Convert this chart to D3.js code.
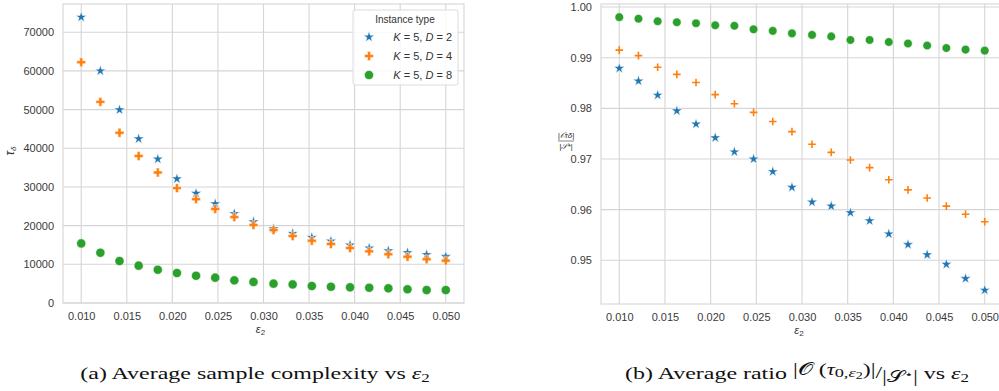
<!DOCTYPE html>
<html>
<head>
<meta charset="utf-8">
<script src="https://cdn.jsdelivr.net/npm/d3@7"></script>
<style>
  body { margin: 0; background: #fff; }
  text { font-family: "Liberation Sans", Arial, sans-serif; }
  .tick text { fill: #3a3a3a; font-size: 11px; }
  .caption { font-family: "Liberation Serif", "Times New Roman", serif; font-size: 17px; fill: #111; }
</style>
</head>
<body>
<svg id="chart"></svg>
<script>
const width = 999;
const height = 391;

// epsilon_2 values (20 points between 0.01 and 0.05)
const eps2 = [0.0100, 0.0121, 0.0142, 0.0163, 0.0184, 0.0205, 0.0226, 0.0247, 0.0268, 0.0289,
              0.0311, 0.0332, 0.0353, 0.0374, 0.0395, 0.0416, 0.0437, 0.0458, 0.0479, 0.0500];

// (a) sample complexity tau_delta
const tauD2 = [73900, 60000, 49950, 42450, 37200, 32100, 28350, 25650, 23100, 21000,
               19200, 18000, 16950, 16000, 15000, 14200, 13500, 13000, 12500, 12000];
const tauD4 = [62250, 52000, 44000, 38000, 33750, 29700, 26850, 24300, 22200, 20150,
               18850, 17300, 16100, 15250, 14200, 13350, 12600, 11950, 11300, 10950];
const tauD8 = [15400, 13000, 10850, 9650, 8600, 7750, 7050, 6550, 5850, 5450,
               5000, 4800, 4400, 4200, 4050, 3950, 3800, 3550, 3350, 3350];

// (b) ratio |O| / |S*|
const ratioD2 = [0.9879, 0.9854, 0.9826, 0.9795, 0.9769, 0.9742, 0.9714, 0.9700, 0.9675, 0.9644,
                 0.9615, 0.9607, 0.9594, 0.9578, 0.9552, 0.9531, 0.9511, 0.9492, 0.9464, 0.9441];
const ratioD4 = [0.9915, 0.9904, 0.9881, 0.9867, 0.9851, 0.9827, 0.9809, 0.9792, 0.9774, 0.9754,
                 0.9729, 0.9713, 0.9698, 0.9683, 0.9659, 0.9639, 0.9623, 0.9607, 0.9591, 0.9576];
const ratioD8 = [0.9980, 0.9977, 0.9972, 0.9970, 0.9968, 0.9964, 0.9963, 0.9956, 0.9953, 0.9948,
                 0.9945, 0.9942, 0.9935, 0.9935, 0.9931, 0.9928, 0.9924, 0.9919, 0.9916, 0.9914];

const xTicks = [0.010, 0.015, 0.020, 0.025, 0.030, 0.035, 0.040, 0.045, 0.050];
const tauTicks = [0, 10000, 20000, 30000, 40000, 50000, 60000, 70000];
const ratioTicks = [0.95, 0.96, 0.97, 0.98, 0.99, 1.00];
const legendLabels = ["2", "4", "8"];

const blue = "#1f77b4", orange = "#ff7f0e", green = "#2ca02c";
const gridColor = "#d5d5d5";

const svg = d3.select("#chart").attr("width", width).attr("height", height);

function panel(box, yDomain, yTicks, yFmt) {
    const x = d3.scaleLinear().domain([0.008, 0.052]).range([box.left, box.right]);
    const y = d3.scaleLinear().domain(yDomain).range([box.bottom, box.top]);
    const g = svg.append("g");

    g.append("g").selectAll("line").data(xTicks).enter().append("line")
        .attr("x1", d => x(d)).attr("x2", d => x(d))
        .attr("y1", box.top).attr("y2", box.bottom)
        .attr("stroke", gridColor).attr("stroke-width", 1.1);
    g.append("g").selectAll("line").data(yTicks).enter().append("line")
        .attr("x1", box.left).attr("x2", box.right)
        .attr("y1", d => y(d)).attr("y2", d => y(d))
        .attr("stroke", gridColor).attr("stroke-width", 1.1);
    g.append("rect")
        .attr("x", box.left).attr("y", box.top)
        .attr("width", box.right - box.left).attr("height", box.bottom - box.top)
        .attr("fill", "none").attr("stroke", gridColor).attr("stroke-width", 1.1);

    const xa = g.append("g").attr("transform", `translate(0,${box.bottom})`)
        .call(d3.axisBottom(x).tickValues(xTicks).tickSize(0).tickPadding(9).tickFormat(d3.format(".3f")));
    xa.select(".domain").remove();
    const ya = g.append("g").attr("transform", `translate(${box.left},0)`)
        .call(d3.axisLeft(y).tickValues(yTicks).tickSize(0).tickPadding(9).tickFormat(yFmt));
    ya.select(".domain").remove();

    // x label epsilon_2
    const lbl = g.append("text").attr("x", (box.left + box.right) / 2 - 3).attr("y", box.bottom + 30)
        .attr("text-anchor", "middle").attr("fill", "#333").style("font-size", "11px");
    lbl.append("tspan").style("font-style", "italic").text("ε");
    lbl.append("tspan").attr("dy", 2).style("font-size", "8px").text("2");
    return { x, y, g };
}

const left = panel({ left: 63, right: 464, top: 4, bottom: 303 }, [0, 77300], tauTicks, d3.format("d"));
const right = panel({ left: 601, right: 1003, top: 4, bottom: 304 }, [0.94137, 1.0006], ratioTicks, d3.format(".2f"));

const star = d3.symbol().type(d3.symbolStar).size(36)();
const circ = d3.symbol().type(d3.symbolCircle).size(66)();
const circSmall = d3.symbol().type(d3.symbolCircle).size(58)();
const fatPlus = d3.symbol().type(d3.symbolCross).size(44)();
const thinPlus = "M-3.8,0H3.8M0,-3.8V3.8";

function scatter(p, values, path, fill, stroke, sw) {
    p.g.append("g").selectAll("path").data(values).enter().append("path")
        .attr("transform", (d, i) => `translate(${p.x(eps2[i])},${p.y(d)})`)
        .attr("d", path)
        .attr("fill", fill).attr("stroke", stroke).attr("stroke-width", sw);
}

scatter(left, tauD2, star, blue, "#fff", 0.5);
scatter(left, tauD4, fatPlus, orange, "#fff", 0.5);
scatter(left, tauD8, circ, green, "#fff", 0.5);

scatter(right, ratioD8, circSmall, green, "#fff", 0.5);
scatter(right, ratioD4, thinPlus, "none", orange, 1.6);
scatter(right, ratioD2, star, blue, "#fff", 0.5);

// left y label tau_delta
const ty = left.g.append("text").attr("transform", "translate(14,151) rotate(-90)")
    .attr("text-anchor", "middle").attr("fill", "#333").style("font-size", "12px");
ty.append("tspan").style("font-style", "italic").text("τ");
ty.append("tspan").attr("dy", 2).style("font-size", "8px").style("font-style", "italic").text("δ");

// right y label: fraction |O_tau| / |S*|
const fr = right.g.append("g").attr("transform", "translate(566,141)").attr("fill", "#333");
fr.append("text").attr("y", -3).attr("text-anchor", "middle").style("font-size", "8px").style("font-style", "italic").text("|𝒪τδ|");
fr.append("line").attr("x1", -8).attr("x2", 8).attr("y1", 0).attr("y2", 0).attr("stroke", "#333").attr("stroke-width", 0.6);
fr.append("text").attr("y", 8).attr("text-anchor", "middle").style("font-size", "8px").style("font-style", "italic").text("|𝒮*|");

// legend
const lg = svg.append("g").attr("transform", "translate(353,10)");
lg.append("rect").attr("width", 105).attr("height", 75).attr("rx", 2)
    .attr("fill", "#fff").attr("fill-opacity", 0.85).attr("stroke", "#dcdcdc").attr("stroke-width", 1);
lg.append("text").attr("x", 52).attr("y", 13).attr("text-anchor", "middle")
    .attr("fill", "#333").style("font-size", "10px").text("Instance type");
const legendMarks = [[star, blue], [fatPlus, orange], [circ, green]];
legendLabels.forEach((dv, i) => {
    const yy = 27 + i * 19;
    lg.append("path").attr("d", legendMarks[i][0]).attr("transform", `translate(16,${yy})`)
        .attr("fill", legendMarks[i][1]).attr("stroke", "#fff").attr("stroke-width", 0.5);
    const t = lg.append("text").attr("x", 99).attr("y", yy + 4).attr("text-anchor", "end")
        .attr("fill", "#333").style("font-size", "11px");
    t.append("tspan").style("font-style", "italic").text("K");
    t.append("tspan").text(" = 5, ");
    t.append("tspan").style("font-style", "italic").text("D");
    t.append("tspan").text(" = " + dv);
});

// captions (the reference text is stretched horizontally)
const ca = svg.append("text").attr("class", "caption")
    .attr("transform", "translate(255,379) scale(1.41,1)").attr("text-anchor", "middle");
ca.append("tspan").text("(a) Average sample complexity vs ");
ca.append("tspan").style("font-style", "italic").text("ε");
ca.append("tspan").attr("dy", 3).style("font-size", "12px").text("2");

const cb = svg.append("text").attr("class", "caption")
    .attr("transform", "translate(797,379) scale(1.41,1)").attr("text-anchor", "middle");
cb.append("tspan").text("(b) Average ratio ");
cb.append("tspan").attr("dy", -4).style("font-size", "17px").text("|𝒪 (");
cb.append("tspan").style("font-size", "16px").style("font-style", "italic").text("τ");
cb.append("tspan").attr("dy", 2).style("font-size", "13px").text("0,");
cb.append("tspan").style("font-size", "13px").style("font-style", "italic").text("ε");
cb.append("tspan").attr("dy", 2).style("font-size", "10px").text("2");
cb.append("tspan").attr("dy", -4).style("font-size", "17px").text(")|");
cb.append("tspan").attr("dy", 3).text("/");
cb.append("tspan").attr("dy", 4).style("font-size", "16px").text("|𝒮");
cb.append("tspan").attr("dy", -4).style("font-size", "11px").text("⋆");
cb.append("tspan").attr("dy", 4).style("font-size", "16px").text("|");
cb.append("tspan").attr("dy", -3).text(" vs ");
cb.append("tspan").style("font-style", "italic").text("ε");
cb.append("tspan").attr("dy", 3).style("font-size", "12px").text("2");
</script>
</body>
</html>
